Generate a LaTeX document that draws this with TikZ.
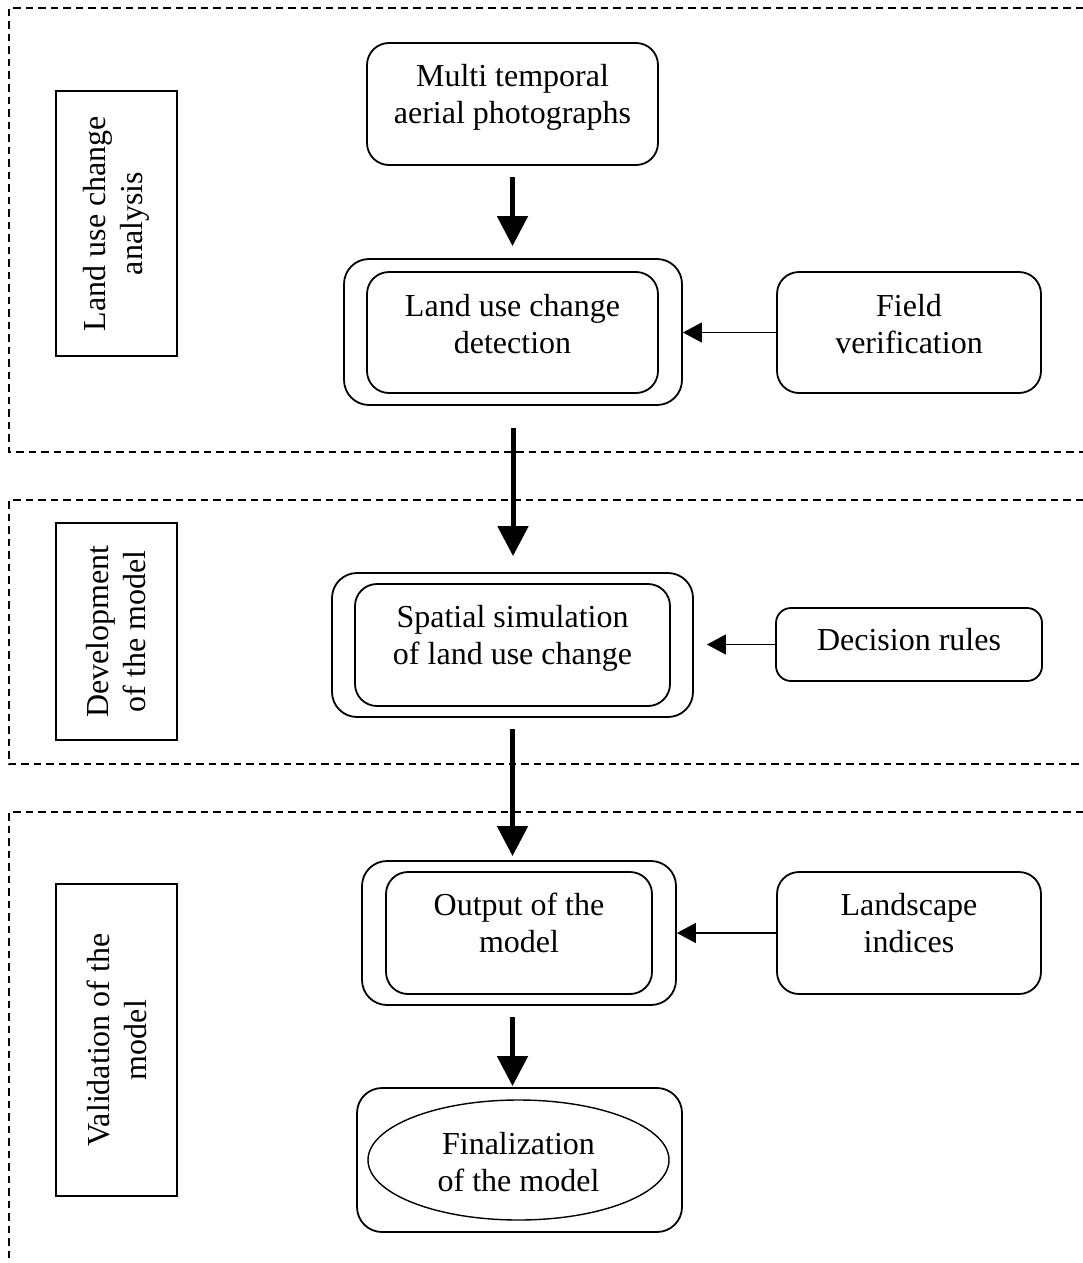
\documentclass[tikz,border=0pt]{standalone}
\usepackage{fontspec}
\setmainfont{Liberation Serif}
\usetikzlibrary{arrows.meta,shapes.geometric}
\begin{document}
\begin{tikzpicture}[x=1pt,y=-1pt,
  txt/.style={font=\fontsize{32}{37}\selectfont, align=center, inner sep=0pt},
  frame/.style={dash pattern=on 7.5pt off 5pt, line width=1.6pt},
  phase/.style={draw, line width=1.4pt, inner sep=0pt, minimum width=121pt},
  rbox/.style={draw, line width=1.8pt, rounded corners=22pt, inner sep=0pt},
  obox/.style={rbox, rounded corners=25pt},
  oval/.style={draw, ellipse, line width=1.4pt, inner sep=0pt},
  bigarrow/.style={line width=5pt, -{Triangle[width=30pt,length=30pt]}},
  smallarrow/.style={line width=1.3pt, -{Triangle[width=20pt,length=19pt]}}]

\useasboundingbox (0,0) rectangle (1083,1263);

% dashed phase frames
\draw[frame] (1083,8) -- (9,8) -- (9,452) -- (1083,452);
\draw[frame] (1083,500) -- (9,500) -- (9,764) -- (1083,764);
\draw[frame] (1083,812) -- (9,812) -- (9,1263);

% phase labels
\node[phase, minimum height=265pt] (ph1) at (116.5,223.5) {};
\node[txt, rotate=90] (ph1t) at (ph1.center) {Land use change\\analysis};
\node[phase, minimum height=217pt] (ph2) at (116.5,631.5) {};
\node[txt, rotate=90] (ph2t) at (ph2.center) {Development\\of the model};
\node[phase, minimum height=312pt] (ph3) at (116.5,1040) {};
\node[txt, rotate=90] (ph3t) at (ph3.center) {Validation of the\\model};

% main chain
\node[rbox, minimum width=291pt, minimum height=122pt] (multi) at (512.5,104) {};
\node[txt] (multit) at (512.5,97.5) {Multi temporal\\aerial photographs};

\node[obox, minimum width=338pt, minimum height=146pt] (detOut) at (513,332) {};
\node[rbox, minimum width=291pt, minimum height=121pt] (detIn) at (512.5,332.5) {};
\node[txt] (dett) at (512.5,324.5) {Land use change\\detection};

\node[obox, minimum width=361pt, minimum height=144pt] (spaOut) at (512.5,645) {};
\node[rbox, minimum width=315pt, minimum height=122pt] (spaIn) at (512.5,645) {};
\node[txt] (spat) at (512.5,638) {Spatial simulation\\of land use change};

\node[obox, minimum width=314pt, minimum height=144pt] (outOut) at (519,933) {};
\node[rbox, minimum width=266pt, minimum height=122pt] (outIn) at (519,933) {};
\node[txt] (outt) at (519,922.5) {Output of the\\model};

\node[obox, minimum width=325pt, minimum height=144pt] (finOut) at (519.5,1160) {};
\node[oval, minimum width=301pt, minimum height=120pt] (finEll) at (518.5,1160) {};
\node[txt] (fint) at (518.5,1162) {Finalization\\of the model};

% side inputs
\node[rbox, minimum width=264pt, minimum height=121pt] (field) at (909,332.5) {};
\node[txt] (fieldt) at (909,324) {Field\\verification};

\node[rbox, rounded corners=15pt, minimum width=266pt, minimum height=73pt] (dec) at (909,644.5) {};
\node[txt] (dect) at (909,640) {Decision rules};

\node[rbox, minimum width=264pt, minimum height=122pt] (land) at (909,933) {};
\node[txt] (landt) at (909,923.5) {Landscape\\indices};

% flow arrows
\draw[bigarrow, shorten <=11pt, shorten >=12pt] (multi.south) -- (multi.south |- detOut.north);
\draw[bigarrow, shorten <=22pt, shorten >=16pt] (detOut.south) -- (detOut.south |- spaOut.north);
\draw[bigarrow, shorten <=11pt, shorten >=4pt] (spaOut.south) -- (spaOut.south |- outOut.north);
\draw[bigarrow, shorten <=11pt, shorten >=1pt] (outOut.south -| multi.south) -- (finOut.north -| multi.south);

\draw[smallarrow] (field.west) -- (field.west -| detOut.east);
\draw[smallarrow, shorten >=13pt] (dec.west) -- (dec.west -| spaOut.east);
\draw[smallarrow] (land.west) -- (land.west -| outOut.east);
\end{tikzpicture}
\end{document}
